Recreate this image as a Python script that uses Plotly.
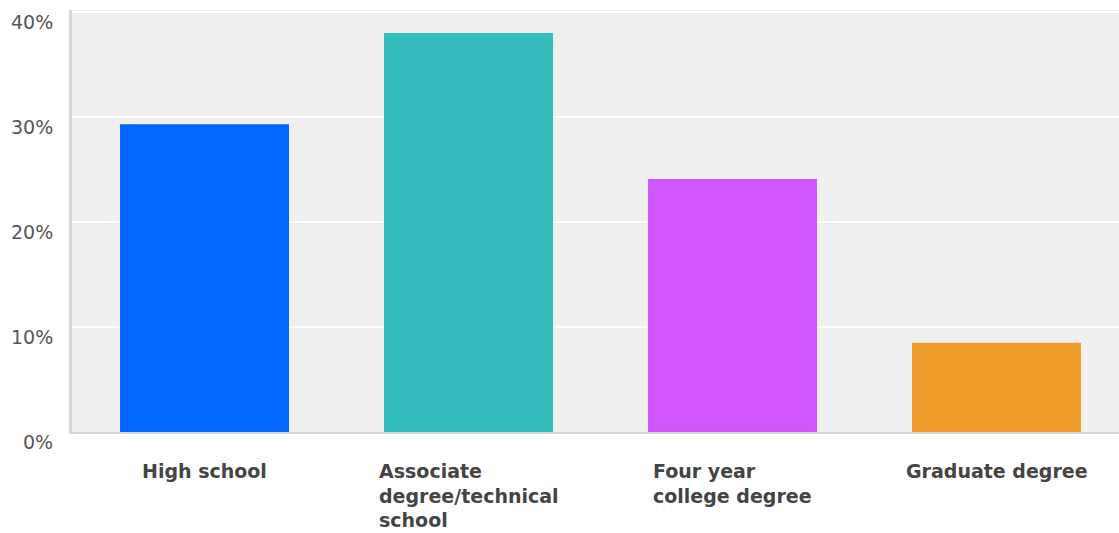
import plotly.graph_objects as go

categories = ["High school", "Associate degree/technical school", "Four year college degree", "Graduate degree"]
label_lines = ["High school", "Associate<br>degree/technical<br>school", "Four year<br>college degree", "Graduate degree"]
values = [29.3, 38.0, 24.1, 8.5]
colors = ["#0066ff", "#33bdbd", "#d155ff", "#f09d2d"]
tick_vals = [0, 10, 20, 30, 40]
tick_text = ["0%", "10%", "20%", "30%", "40%"]

fig = go.Figure()
fig.add_trace(go.Bar(
    x=list(range(len(categories))),
    y=values,
    marker=dict(color=colors, line=dict(width=0)),
    hovertext=categories,
    showlegend=False,
))

for i, txt in enumerate(label_lines):
    fig.add_annotation(
        x=i, xref="x", y=-0.061, yref="paper",
        xanchor="center", yanchor="top", align="left",
        text="<b>" + txt + "</b>", showarrow=False,
        font=dict(family="DejaVu Sans", size=19, color="#444444"),
    )

fig.update_layout(
    width=1119, height=533,
    margin=dict(l=72, r=0, t=10, b=101),
    paper_bgcolor="white",
    plot_bgcolor="#efefef",
    bargap=0.36,
    xaxis=dict(
        range=[-0.502, 3.464], showticklabels=False, showgrid=False, zeroline=False,
        showline=True, linecolor="#d8d8d8", linewidth=2, ticks="",
    ),
    yaxis=dict(
        range=[0, 40.19], tickvals=tick_vals, ticktext=tick_text,
        showgrid=True, gridcolor="white", gridwidth=2, zeroline=False,
        showline=True, linecolor="#d8d8d8", linewidth=3, ticks="",
        tickfont=dict(family="DejaVu Sans", size=19, color="#555555"),
        ticklabelshift=10, ticklabelstandoff=12,
    ),
)

fig.write_html("out.html")
